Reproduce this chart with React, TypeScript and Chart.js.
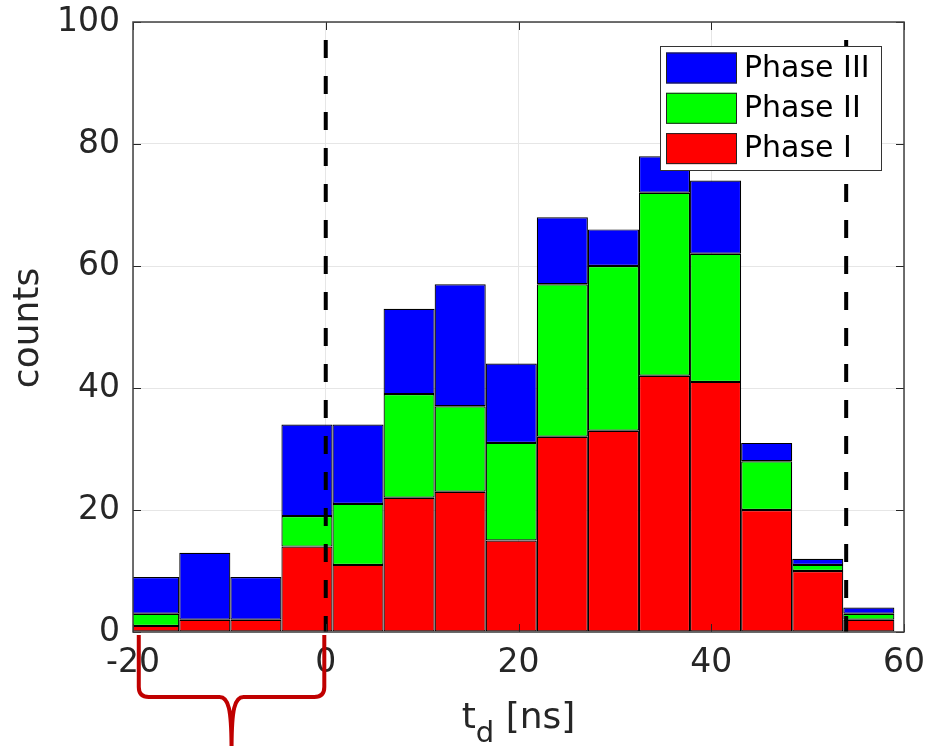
import React, { useEffect, useRef } from 'react';
import { Chart, registerables } from 'chart.js';

Chart.register(...registerables);

// ---- data ----
const binCenters = [-17.85, -12.55, -7.25, -1.95, 3.35, 8.65, 13.95, 19.25, 24.55, 29.85, 35.15, 40.45, 45.75, 51.05, 56.35];
const phaseI = [1, 2, 2, 14, 11, 22, 23, 15, 32, 33, 42, 41, 20, 10, 2];
const phaseII = [2, 0, 0, 5, 10, 17, 14, 16, 25, 27, 30, 21, 8, 1, 1];
const phaseIII = [6, 11, 7, 15, 13, 14, 20, 13, 11, 6, 6, 12, 3, 1, 1];
const seriesLabels = ['Phase I', 'Phase II', 'Phase III'];
const seriesColors = ['#ff0000', '#00ff00', '#0000ff'];
const xTicks = [-20, 0, 20, 40, 60];
const yTicks = [0, 20, 40, 60, 80, 100];
const markerLines = [0, 54];
const bracketRange = [-19.4, -0.15];
const xTitleMain = 't';
const xTitleSub = 'd';
const xTitleRest = ' [ns]';
const yTitle = 'counts';

const FONT = "'DejaVu Sans', sans-serif";
const TEXT = '#262626';

const overlay = {
  id: 'overlay',
  afterDatasetsDraw(chart: any) {
    const { ctx, chartArea: a, scales } = chart;
    const x = scales.x;
    const y = scales.y;
    ctx.save();
    // dashed marker lines
    ctx.strokeStyle = '#000';
    ctx.lineWidth = 4;
    ctx.setLineDash([18, 18]);
    ctx.lineDashOffset = 18;
    markerLines.forEach((v) => {
      const px = x.getPixelForValue(v);
      ctx.beginPath();
      ctx.moveTo(px, a.top);
      ctx.lineTo(px, a.bottom);
      ctx.stroke();
    });
    ctx.setLineDash([]);
    // inward ticks
    ctx.strokeStyle = TEXT;
    ctx.lineWidth = 1;
    const tl = 8;
    yTicks.forEach((v) => {
      const py = Math.round(y.getPixelForValue(v)) + 0.5;
      ctx.beginPath();
      ctx.moveTo(a.left, py); ctx.lineTo(a.left + tl, py);
      ctx.moveTo(a.right, py); ctx.lineTo(a.right - tl, py);
      ctx.stroke();
    });
    xTicks.forEach((v) => {
      const px = Math.round(x.getPixelForValue(v)) + 0.5;
      ctx.beginPath();
      ctx.moveTo(px, a.bottom); ctx.lineTo(px, a.bottom - tl);
      ctx.moveTo(px, a.top); ctx.lineTo(px, a.top + tl);
      ctx.stroke();
    });
    // axes box
    ctx.strokeStyle = '#404040';
    ctx.lineWidth = 1.5;
    ctx.strokeRect(a.left, a.top, a.right - a.left, a.bottom - a.top);
    ctx.restore();
  },
  afterDraw(chart: any) {
    const { ctx, chartArea: a, scales } = chart;
    const x = scales.x;
    ctx.save();
    // legend
    const bw = 221, bh = 124;
    const bx = a.right - 23 - bw;
    const by = a.top + 24;
    ctx.fillStyle = '#fff';
    ctx.fillRect(bx, by, bw, bh);
    ctx.strokeStyle = '#333';
    ctx.lineWidth = 1;
    ctx.strokeRect(bx + 0.5, by + 0.5, bw, bh);
    const ds = chart.data.datasets.slice().reverse();
    ctx.font = `30px ${FONT}`;
    ctx.textBaseline = 'middle';
    ctx.textAlign = 'left';
    ds.forEach((d: any, i: number) => {
      const cy = by + 22 + i * 40.3;
      ctx.fillStyle = d.backgroundColor;
      ctx.fillRect(bx + 6, cy - 15.5, 71, 31);
      ctx.strokeStyle = '#222';
      ctx.strokeRect(bx + 6.5, cy - 15, 70, 30);
      ctx.fillStyle = '#000';
      ctx.fillText(d.label, bx + 84, cy + 1);
    });
    // y title
    ctx.fillStyle = TEXT;
    ctx.save();
    ctx.translate(38, (a.top + a.bottom) / 2 + 1);
    ctx.rotate(-Math.PI / 2);
    ctx.font = `36px ${FONT}`;
    ctx.textAlign = 'center';
    ctx.textBaseline = 'alphabetic';
    ctx.fillText(yTitle, 0, 0);
    ctx.restore();
    // x title with subscript
    ctx.textAlign = 'left';
    ctx.textBaseline = 'alphabetic';
    ctx.font = `36px ${FONT}`;
    const w1 = ctx.measureText(xTitleMain).width;
    const w3 = ctx.measureText(xTitleRest).width;
    ctx.font = `29px ${FONT}`;
    const w2 = ctx.measureText(xTitleSub).width;
    const total = w1 + w2 + w3;
    let sx = (a.left + a.right) / 2 - total / 2;
    const base = 728;
    ctx.font = `36px ${FONT}`;
    ctx.fillText(xTitleMain, sx, base);
    sx += w1;
    ctx.font = `29px ${FONT}`;
    ctx.fillText(xTitleSub, sx, base + 14);
    sx += w2;
    ctx.font = `36px ${FONT}`;
    ctx.fillText(xTitleRest, sx, base);
    // red curly bracket
    const lx = x.getPixelForValue(bracketRange[0]);
    const rx = x.getPixelForValue(bracketRange[1]);
    const cx = (lx + rx) / 2;
    const top = a.bottom + 3;
    const hy = 697;
    const r = 10;
    ctx.strokeStyle = '#c00000';
    ctx.lineWidth = 4;
    ctx.lineJoin = 'round';
    ctx.beginPath();
    ctx.moveTo(lx, top);
    ctx.lineTo(lx, hy - r);
    ctx.quadraticCurveTo(lx, hy, lx + r, hy);
    ctx.lineTo(cx - 12, hy);
    ctx.bezierCurveTo(cx - 3, hy, cx, hy + 12, cx, 750);
    ctx.moveTo(rx, top);
    ctx.lineTo(rx, hy - r);
    ctx.quadraticCurveTo(rx, hy, rx - r, hy);
    ctx.lineTo(cx + 12, hy);
    ctx.bezierCurveTo(cx + 3, hy, cx, hy + 12, cx, 750);
    ctx.stroke();
    ctx.restore();
  },
};

export default function App() {
  const ref = useRef<HTMLCanvasElement | null>(null);
  useEffect(() => {
    if (!ref.current) return;
    Chart.defaults.font.family = FONT;
    const series = [phaseI, phaseII, phaseIII];
    const chart = new Chart(ref.current, {
      type: 'bar',
      data: {
        datasets: series.map((vals, i) => ({
          label: seriesLabels[i],
          data: vals.map((v, j) => ({ x: binCenters[j], y: v })),
          backgroundColor: seriesColors[i],
          borderColor: '#000',
          borderWidth: 1.2,
          borderSkipped: false,
          barPercentage: 1,
          categoryPercentage: 1,
          inflateAmount: 0,
          clip: 0,
        })),
      },
      options: {
        animation: false,
        responsive: false,
        layout: { padding: { left: 0, right: 24, top: 22, bottom: 0 } },
        plugins: { legend: { display: false }, tooltip: { enabled: false } },
        scales: {
          x: {
            type: 'linear',
            stacked: true,
            min: -20,
            max: 60,
            offset: false,
            afterBuildTicks: (s: any) => { s.ticks = xTicks.map((v) => ({ value: v })); },
            afterFit: (s: any) => { s.height = 114; s.paddingLeft = 0; s.paddingRight = 0; },
            ticks: { font: { size: 33, family: FONT }, color: TEXT, padding: 12, maxRotation: 0, autoSkip: false },
            grid: { color: '#e6e6e6', drawTicks: false, offset: false, lineWidth: 1 },
            border: { display: false },
          },
          y: {
            type: 'linear',
            stacked: true,
            min: 0,
            max: 100,
            afterBuildTicks: (s: any) => { s.ticks = yTicks.map((v) => ({ value: v })); },
            afterFit: (s: any) => { s.width = 133; s.paddingTop = 0; s.paddingBottom = 0; },
            ticks: { font: { size: 33, family: FONT }, color: TEXT, padding: 13 },
            grid: { color: '#e6e6e6', drawTicks: false, lineWidth: 1 },
            border: { display: false },
          },
        },
      },
      plugins: [overlay],
    } as any);
    return () => chart.destroy();
  }, []);
  return (
    <div style={{ position: 'absolute', left: 0, top: 0, width: 928, height: 746, background: '#fff' }}>
      <canvas ref={ref} width={928} height={746} style={{ display: 'block' }} />
    </div>
  );
}
